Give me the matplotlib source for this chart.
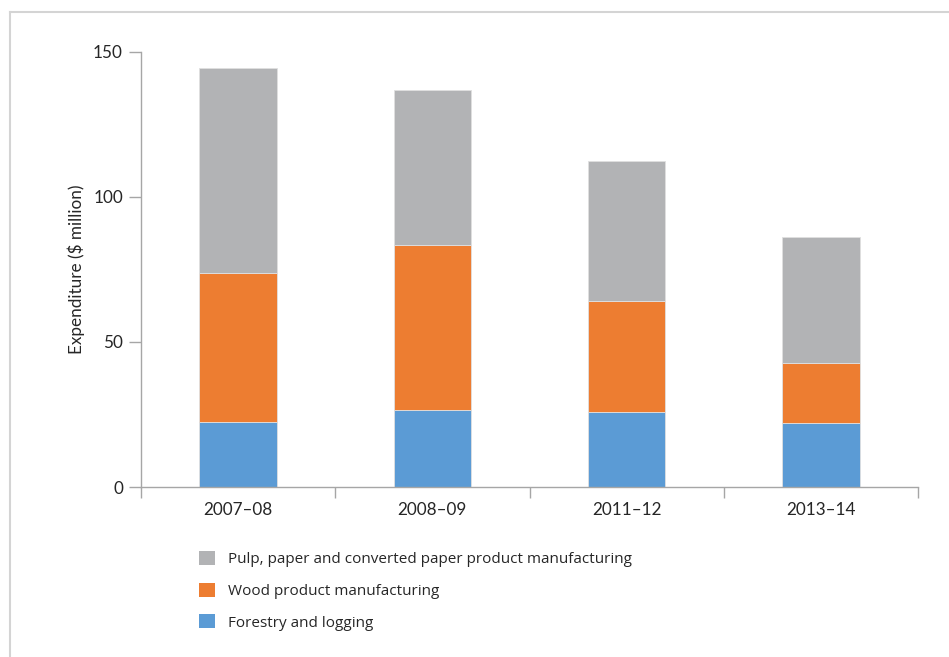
"""Stacked bar chart: expenditure by forestry sub-sector."""

import matplotlib
matplotlib.use("Agg")
import matplotlib.pyplot as plt
from matplotlib.patches import Patch
from matplotlib.lines import Line2D
import numpy as np

years = ["2007–08", "2008–09", "2011–12", "2013–14"]
forestry = [22.4, 26.4, 26.0, 22.1]
wood = [51.4, 57.0, 38.1, 20.8]
pulp = [70.7, 53.5, 48.2, 43.2]

series_labels = [
    "Pulp, paper and converted paper product manufacturing",
    "Wood product manufacturing",
    "Forestry and logging",
]
colors = {"pulp": "#B2B3B5", "wood": "#ED7D31", "forestry": "#5B9BD5"}
axis_grey = "#A6A6A6"
text_col = "#262626"

W, H = 949, 657
fig = plt.figure(figsize=(W / 100, H / 100), dpi=100)
ax = fig.add_axes([141 / W, 1 - 487 / H, (918 - 141) / W, (487 - 52) / H])

x = np.arange(len(years))
bw = 0.4
edge = dict(edgecolor="#E0E0E0", linewidth=0.6)
ax.bar(x, forestry, bw, color=colors["forestry"], **edge)
ax.bar(x, wood, bw, bottom=forestry, color=colors["wood"], **edge)
bottom2 = np.array(forestry) + np.array(wood)
ax.bar(x, pulp, bw, bottom=bottom2, color=colors["pulp"], **edge)

ax.set_xlim(-0.5, len(years) - 0.5)
ax.set_ylim(0, 150)

# x: boundary ticks as major, labels on minor
ax.set_xticks(np.arange(len(years) + 1) - 0.5)
ax.set_xticklabels([])
ax.set_xticks(x, minor=True)
ax.set_xticklabels(years, minor=True, fontsize=12.3, color=text_col,
                   family="Lato")
ax.tick_params(axis="x", which="major", length=8, color=axis_grey, width=1)
ax.tick_params(axis="x", which="minor", length=0, pad=11)

ax.set_yticks([0, 50, 100, 150])
ax.set_yticklabels(["0", "50", "100", "150"], fontsize=12.3, color=text_col,
                   family="Lato")
ax.tick_params(axis="y", length=9, color=axis_grey, width=1, pad=4)

for s in ["top", "right"]:
    ax.spines[s].set_visible(False)
for s in ["left", "bottom"]:
    ax.spines[s].set_color(axis_grey)
    ax.spines[s].set_linewidth(1)

ax.set_ylabel("Expenditure ($ million)", fontsize=12.3, color=text_col,
              family="Lato", labelpad=6)

handles = [
    Patch(facecolor=colors["pulp"], edgecolor="none"),
    Patch(facecolor=colors["wood"], edgecolor="none"),
    Patch(facecolor=colors["forestry"], edgecolor="none"),
]
fig.legend(handles, series_labels, loc="upper left",
           bbox_to_anchor=(193 / W, 1 - 545 / H), frameon=False,
           prop={"family": "Open Sans", "size": 11},
           labelcolor=text_col, handlelength=1.05, handleheight=1.05,
           handletextpad=0.85, labelspacing=1.0, borderaxespad=0)

# outer frame (top and left only)
fig.add_artist(Line2D([10 / W, 10 / W], [0, 1 - 12 / H],
                      transform=fig.transFigure, color="#D4D4D4", lw=1.5))
fig.add_artist(Line2D([10 / W, 1], [1 - 12 / H, 1 - 12 / H],
                      transform=fig.transFigure, color="#D4D4D4", lw=1.5))

fig.savefig("out.png", dpi=100)
